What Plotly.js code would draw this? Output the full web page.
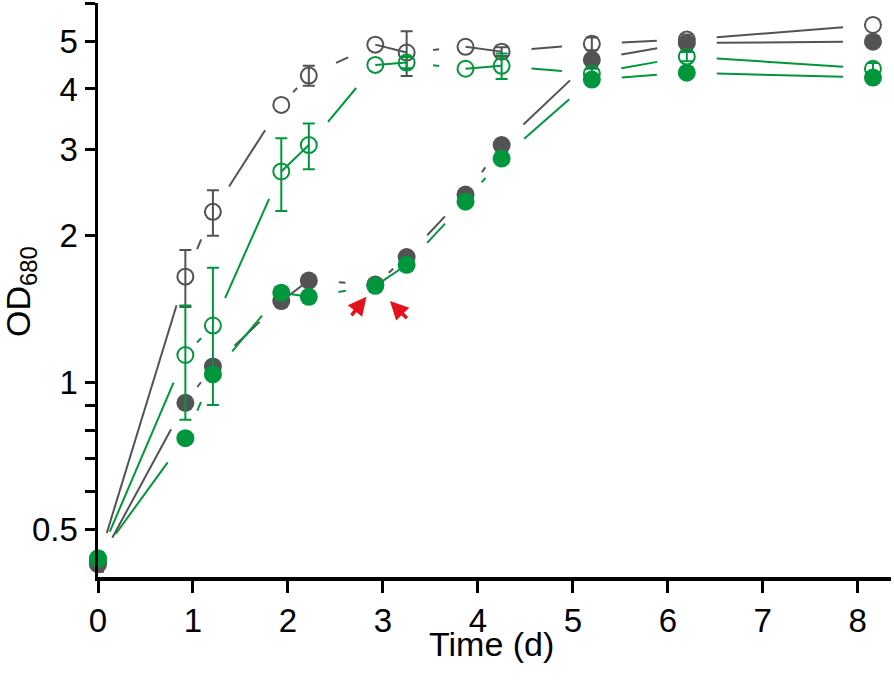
<!DOCTYPE html>
<html>
<head>
<meta charset="utf-8">
<script src="https://cdn.plot.ly/plotly-3.0.1.min.js"></script>
<style>html,body{margin:0;padding:0;background:#fff;}#chart{width:894px;height:685px;}</style>
</head>
<body>
<div id="chart"></div>
<script>
// ---- data ----
const time = [0, 0.92, 1.21, 1.93, 2.22, 2.92, 3.25, 3.87, 4.25, 5.2, 6.2, 8.16];
const grayOpen     = [0.43, 1.65, 2.24, 3.71, 4.26, 4.93, 4.75, 4.88, 4.77, 4.95, 5.05, 5.41];
const grayOpenErr  = [0.02, 0.22, 0.24, null, 0.20, null, 0.50, null, 0.10, 0.15, 0.12, null];
const grayFilled   = [0.425, 0.91, 1.08, 1.47, 1.62, 1.59, 1.81, 2.43, 3.07, 4.59, 4.97, 5.00];
const greenOpen    = [0.435, 1.14, 1.31, 2.71, 3.07, 4.48, 4.53, 4.40, 4.46, 4.30, 4.66, 4.40];
const greenOpenErr = [null, 0.30, 0.41, 0.46, 0.33, null, 0.12, null, 0.27, 0.10, 0.10, 0.12];
const greenFilled  = [0.437, 0.77, 1.04, 1.53, 1.50, 1.58, 1.745, 2.35, 2.88, 4.18, 4.32, 4.22];
const xTicks = [0, 1, 2, 3, 4, 5, 6, 7, 8];
const yTickVals = [0.5, 0.6, 0.7, 0.8, 0.9, 1, 2, 3, 4, 5, 6];
const yTickText = ['0.5', '', '', '', '', '1', '2', '3', '4', '5', ''];
const arrowTarget = 5; // index of the marked sample

// ---- geometry of the plot area ----
const W = 894, H = 685;
const M = {l: 98, r: 3, t: 3, b: 108};
const xr = [0, 8.35];
const yr = [Math.log10(0.4), Math.log10(6)];
const PW = W - M.l - M.r, PH = H - M.t - M.b;

const toPx = (x, v) => [M.l + (x - xr[0]) / (xr[1] - xr[0]) * PW,
                        M.t + (yr[1] - Math.log10(v)) / (yr[1] - yr[0]) * PH];
const fromPx = (px, py) => [xr[0] + (px - M.l) / PW * (xr[1] - xr[0]),
                            Math.pow(10, yr[1] - (py - M.t) / PH * (yr[1] - yr[0]))];

// line segments with a gap next to each symbol (as in the original)
function gapped(xs, ys) {
  const X = [], Y = [];
  for (let i = 0; i < xs.length - 1; i++) {
    const a = toPx(xs[i], ys[i]), b = toPx(xs[i + 1], ys[i + 1]);
    const dx = b[0] - a[0], dy = b[1] - a[1];
    const L = Math.hypot(dx, dy);
    let g = 0;
    if (L > 40) g = Math.min(30, (L - 6) / 2);
    const ux = dx / L, uy = dy / L;
    const p = fromPx(a[0] + ux * g, a[1] + uy * g);
    const q = fromPx(b[0] - ux * g, b[1] - uy * g);
    X.push(p[0], q[0], null);
    Y.push(p[1], q[1], null);
  }
  return {X, Y};
}

const GRAY = '#535353', GREEN = '#00973c';
const lineTrace = (ys, color) => {
  const s = gapped(time, ys);
  return {x: s.X, y: s.Y, mode: 'lines', type: 'scatter', hoverinfo: 'skip',
          line: {color: color, width: 2}, showlegend: false, cliponaxis: false};
};
const markerTrace = (ys, color, open, err) => {
  const t = {x: time, y: ys, mode: 'markers', type: 'scatter', showlegend: false, cliponaxis: false,
    marker: open ? {symbol: 'circle-open', size: 16, color: color, line: {width: 2, color: color}}
                 : {symbol: 'circle', size: 18, color: color, line: {width: 0}}};
  if (err) t.error_y = {type: 'data', array: err.map(v => (v == null ? undefined : v)),
                        visible: true, color: color, thickness: 2, width: 6};
  return t;
};

const traces = [
  lineTrace(grayOpen, GRAY),
  lineTrace(grayFilled, GRAY),
  lineTrace(greenOpen, GREEN),
  lineTrace(greenFilled, GREEN),
  markerTrace(grayOpen, GRAY, true, grayOpenErr),
  markerTrace(grayFilled, GRAY, false, null),
  markerTrace(greenOpen, GREEN, true, greenOpenErr),
  markerTrace(greenFilled, GREEN, false, null)
];

const FONT = 'Liberation Sans, Arial, sans-serif';
const layout = {
  width: W, height: H,
  margin: M,
  paper_bgcolor: '#fff', plot_bgcolor: '#fff',
  font: {family: FONT, color: '#000', size: 33},
  xaxis: {
    range: xr, tickvals: xTicks, ticktext: xTicks.map(String),
    showgrid: false, zeroline: false, showline: true, linecolor: '#000', linewidth: 3.5,
    ticks: 'outside', ticklen: 12, tickwidth: 3, tickcolor: '#000',
    tickfont: {size: 33, family: FONT}
  },
  yaxis: {
    type: 'log', range: yr, tickvals: yTickVals, ticktext: yTickText,
    showgrid: false, zeroline: false, showline: true, linecolor: '#000', linewidth: 3.5,
    ticks: 'outside', ticklen: 10, tickwidth: 3, tickcolor: '#000',
    tickfont: {size: 33, family: FONT}
  },
  annotations: [
    {xref: 'paper', yref: 'paper', x: (20 - M.l) / PW, y: (M.t + PH - 292) / PH,
     text: 'OD<sub>680</sub>', textangle: -90, showarrow: false, xanchor: 'center', yanchor: 'middle',
     font: {size: 34, family: FONT, color: '#000'}},
    {xref: 'paper', yref: 'paper', x: (491 - M.l) / PW, y: (M.t + PH - 644) / PH,
     text: 'Time (d)', showarrow: false, xanchor: 'center', yanchor: 'middle', borderpad: 0,
     font: {size: 34, family: FONT, color: '#000'}},
    {x: time[arrowTarget], y: Math.log10(greenFilled[arrowTarget]), text: '', showarrow: true,
     ax: -25, ay: 31, standoff: 14, arrowcolor: '#e3121c', arrowwidth: 3.5, arrowhead: 2, arrowsize: 1.05},
    {x: time[arrowTarget], y: Math.log10(greenFilled[arrowTarget]), text: '', showarrow: true,
     ax: 33, ay: 34, standoff: 21, arrowcolor: '#e3121c', arrowwidth: 3.5, arrowhead: 2, arrowsize: 1.05}
  ]
};

Plotly.newPlot('chart', traces, layout, {displayModeBar: false, staticPlot: true});
</script>
</body>
</html>
